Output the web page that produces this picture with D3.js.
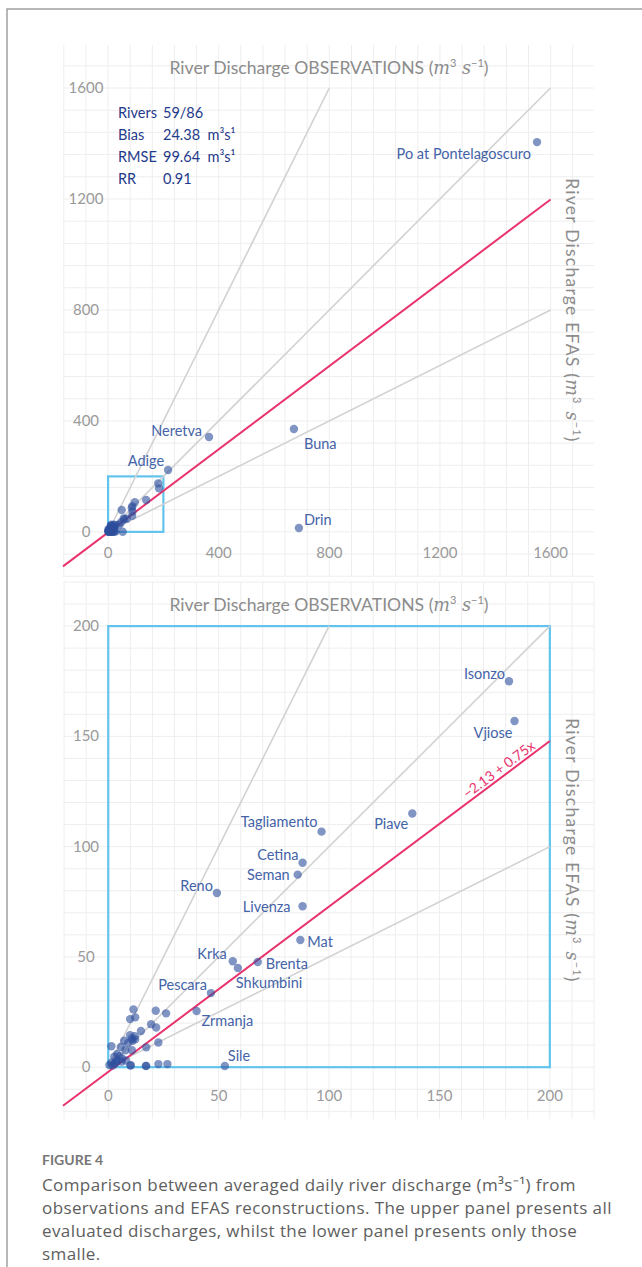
<!DOCTYPE html>
<html lang="en">
<head>
<meta charset="UTF-8">
<script src="https://cdnjs.cloudflare.com/ajax/libs/d3/7.8.5/d3.min.js"></script>
<style>
  body { margin: 0; background: #fff; }
  text { font-family: Lato, "Open Sans", sans-serif; }
</style>
</head>
<body>
<script>
// river names ("" = not labelled), observed and EFAS mean discharge (m3/s)
const rivers = ["Po at Pontelagoscuro", "Neretva", "Adige", "Buna", "Drin",
  "Isonzo", "Vjiose", "Piave", "Tagliamento", "Cetina", "Seman", "Reno", "Livenza",
  "Mat", "Krka", "Brenta", "Shkumbini", "Pescara", "Zrmanja", "Sile",
  "", "", "", "", "", "", "", "", "", "", "", "", "", "", "", "", "", "", "", "",
  "", "", "", "", "", "", "", "", "", "", "", "", "", "", "", "", "", "", ""];
const obs = [1551, 365, 217, 672, 690,
  181.5, 184, 137.7, 96.6, 88, 85.8, 49.2, 88,
  87, 56.4, 67.7, 58.7, 46.5, 40, 52.8,
  11.4, 9.9, 12.2, 21.5, 26.2, 19.4, 21.7, 14.8, 9.9, 10.7, 12.2, 7.2, 5.7, 1.4, 7.7, 10.7, 17.2, 22.7, 2.7, 6.2,
  1.4, 4, 10.2, 17.2, 22.7, 26.8, 10.0, 17.0, 3, 5, 6, 8, 2, 9, 11, 12, 4, 3.5, 0.5];
const efas = [1405, 342, 223, 371, 14,
  175, 157, 115, 106.8, 92.7, 87.3, 79, 73,
  57.7, 48, 47.7, 45, 33.6, 25.5, 0.5,
  26.2, 21.8, 22.6, 25.6, 24.4, 19.5, 18, 16.4, 14.5, 13, 12.6, 12, 9.2, 9.5, 7.7, 7.7, 9, 11.2, 4.7, 3.9,
  2, 3, 0.9, 0.6, 1.4, 1.4, 0.8, 0.5, 1.5, 5, 2.5, 3, 0.8, 11, 12, 14, 6, 2.5, 1];

// summary stats and fit
const statNames = ["Rivers", "Bias", "RMSE", "RR"];
const statValues = ["59/86", "24.38  m\u00b3s\u00b9", "99.64  m\u00b3s\u00b9", "0.91"];
const fitA = -2.13, fitB = 0.75;
const refSlopes = [2, 1, 0.5];
const topTicks = [0, 400, 800, 1200, 1600];
const botTicks = [0, 50, 100, 150, 200];

const captionHead = "FIGURE 4";
const captionLines = [
  "Comparison between averaged daily river discharge (m\u00b3s\u207b\u00b9) from",
  "observations and EFAS reconstructions. The upper panel presents all",
  "evaluated discharges, whilst the lower panel presents only those",
  "smalle."
];

// label placement (anchor, dx, dy) keyed by name, separate per panel
const topLab = {
  "Po at Pontelagoscuro": ["end", -6, 11], "Neretva": ["end", -7, -7],
  "Adige": ["end", -4, -10], "Buna": ["start", 10, 15], "Drin": ["start", 5, -9]
};
const botLab = {
  "Isonzo": ["end", -4, -8], "Vjiose": ["end", -2, 12], "Piave": ["end", -4, 10],
  "Tagliamento": ["end", -4, -10], "Cetina": ["end", -4, -8], "Seman": ["end", -8, 0],
  "Reno": ["end", -4, -7], "Livenza": ["end", -12, 0], "Mat": ["start", 7, 2],
  "Krka": ["end", -6, -8], "Brenta": ["start", 8, 2], "Shkumbini": ["start", -2, 15],
  "Pescara": ["end", -4, -9], "Zrmanja": ["start", 5, 10], "Sile": ["start", 3, -11]
};

const data = rivers.map((n, i) => ({name: n, x: obs[i], y: efas[i]}));

const W = 642, H = 1267;
const svg = d3.select("body").append("svg").attr("width", W).attr("height", H);

// page frame
svg.append("path").attr("d", `M7,${H} L7,9 L${W},9`)
  .attr("fill", "none").attr("stroke", "#a0a0a0").attr("stroke-width", 1.5);

function panel(cfg) {
  const x = d3.scaleLinear().domain(cfg.xd).range([63, 594]);
  const y = d3.scaleLinear().domain(cfg.yd).range([cfg.bottom, cfg.top]);
  const g = svg.append("g");

  // grid
  g.selectAll(".gx").data(d3.range(cfg.gFrom, cfg.xd[1] + 0.1, cfg.gStep)).enter().append("line")
    .attr("x1", d => x(d)).attr("x2", d => x(d)).attr("y1", cfg.top).attr("y2", cfg.bottom)
    .attr("stroke", "#eeeeee").attr("stroke-width", 1);
  g.selectAll(".gy").data(d3.range(cfg.gFrom, cfg.yd[1] + 0.1, cfg.gStep)).enter().append("line")
    .attr("y1", d => y(d)).attr("y2", d => y(d)).attr("x1", 63).attr("x2", 594)
    .attr("stroke", "#eeeeee").attr("stroke-width", 1);

  // ticks
  g.selectAll(".tx").data(cfg.ticks).enter().append("text")
    .attr("x", d => x(d)).attr("y", cfg.bottom - 18).attr("text-anchor", "middle")
    .attr("fill", "#9a9a9a").attr("font-size", 15).text(d => d);
  g.selectAll(".ty").data(cfg.ticks).enter().append("text")
    .attr("x", 86).attr("y", d => y(d) + 5).attr("text-anchor", "middle")
    .attr("fill", "#9a9a9a").attr("font-size", 15).text(d => d);

  // zoom box
  g.append("rect").attr("x", x(0)).attr("y", y(200))
    .attr("width", x(200) - x(0)).attr("height", y(0) - y(200))
    .attr("fill", "none").attr("stroke", "#62c4ec").attr("stroke-width", 2.2);

  // reference lines
  g.selectAll(".ref").data(refSlopes).enter().append("line")
    .attr("x1", x(0)).attr("y1", y(0))
    .attr("x2", s => x(Math.min(cfg.lim, cfg.lim / s)))
    .attr("y2", s => y(Math.min(cfg.lim, cfg.lim * s)))
    .attr("stroke", "#d2d2d2").attr("stroke-width", 1.6);

  // fit line
  g.append("line")
    .attr("x1", x(cfg.xd[0])).attr("y1", y(fitA + fitB * cfg.xd[0]))
    .attr("x2", x(cfg.lim)).attr("y2", y(fitA + fitB * cfg.lim))
    .attr("stroke", "#e8336d").attr("stroke-width", 2);

  // points
  const pts = data.filter(d => d.x <= cfg.lim && d.y <= cfg.lim);
  g.selectAll(".pt").data(pts).enter().append("circle")
    .attr("cx", d => x(d.x)).attr("cy", d => y(d.y)).attr("r", 4.2)
    .attr("fill", "#2d4f9c").attr("fill-opacity", 0.6);

  // labels
  g.selectAll(".lab").data(pts.filter(d => cfg.lab[d.name])).enter().append("text")
    .attr("x", d => x(d.x) + cfg.lab[d.name][1])
    .attr("y", d => y(d.y) + cfg.lab[d.name][2])
    .attr("dominant-baseline", "central")
    .attr("text-anchor", d => cfg.lab[d.name][0])
    .attr("fill", "#4463a8").attr("font-size", 14.5).text(d => d.name);

  // titles
  const t = g.append("text").attr("x", 329).attr("y", cfg.top + 29)
    .attr("text-anchor", "middle").attr("fill", "#8c8c8c").attr("font-size", 17.6);
  unitText(t, "River Discharge OBSERVATIONS ");
  const r = g.append("text").attr("transform", `translate(566,${(cfg.top + cfg.bottom) / 2}) rotate(90)`)
    .attr("text-anchor", "middle").attr("fill", "#8c8c8c").attr("font-size", 17.6)
    .attr("letter-spacing", 1.2);
  unitText(r, "River Discharge EFAS ");
  return {x, y, g};
}

function unitText(t, s) {
  t.append("tspan").text(s + "(");
  t.append("tspan").attr("font-style", "italic").attr("font-family", "DejaVu Serif").text("m");
  t.append("tspan").attr("font-size", 11).attr("dy", -7).text("3");
  t.append("tspan").attr("font-style", "italic").attr("font-family", "DejaVu Serif").attr("dy", 7).text(" s");
  t.append("tspan").attr("font-size", 11).attr("dy", -7).text("\u22121");
  t.append("tspan").attr("dy", 7).text(")");
}

const topPanel = panel({xd: [-163, 1757], yd: [-159, 1755], top: 45, bottom: 576,
  gFrom: -160, gStep: 80, ticks: topTicks, lim: 1600, lab: topLab});
const botPanel = panel({xd: [-20.5, 220], yd: [-23.5, 220], top: 582, bottom: 1119,
  gFrom: -20, gStep: 10, ticks: botTicks, lim: 200, lab: botLab});

// stats block
statNames.forEach((n, i) => {
  svg.append("text").attr("x", 118).attr("y", 118 + i * 22).attr("fill", "#1f3a8a")
    .attr("font-size", 14.5).text(n);
  svg.append("text").attr("x", 163).attr("y", 118 + i * 22).attr("fill", "#1f3a8a")
    .attr("font-size", 14.5).attr("xml:space", "preserve").style("white-space", "pre").text(statValues[i]);
});

// fit label along the line
const lx = 179, ly = fitA + fitB * lx;
const bx = botPanel.x, by = botPanel.y;
const ang = Math.atan2(by(fitA + fitB * 200) - by(fitA), bx(200) - bx(0)) * 180 / Math.PI;
svg.append("text").attr("transform", `translate(${bx(lx)},${by(ly)}) rotate(${ang})`)
  .attr("y", -3).attr("text-anchor", "middle").attr("fill", "#e8336d").attr("font-size", 14)
  .text(`\u2212${Math.abs(fitA)} + ${fitB}x`);

// caption
svg.append("text").attr("x", 42).attr("y", 1165).attr("fill", "#777").attr("font-size", 14)
  .attr("font-weight", "bold").text(captionHead);
svg.selectAll(".cap").data(captionLines).enter().append("text")
  .attr("x", 42).attr("y", (d, i) => 1191 + i * 23).attr("fill", "#5e5e5e").attr("font-size", 17)
  .attr("letter-spacing", 0.4)
  .style("font-family", "'Open Sans', sans-serif")
  .text(d => d);
</script>
</body>
</html>
